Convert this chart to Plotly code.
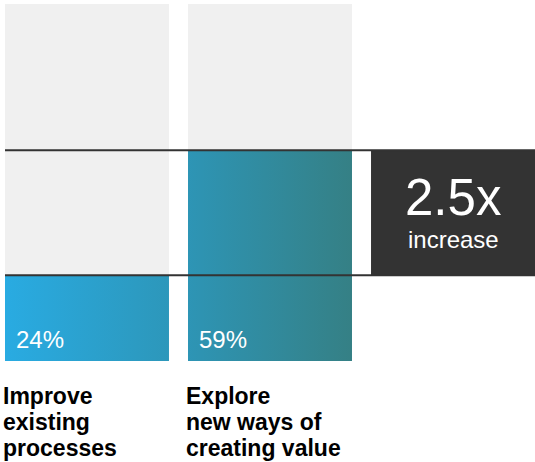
import plotly.graph_objects as go

# ---- data ----
categories = ["Improve existing processes", "Explore new ways of creating value"]
label_lines = [["Improve", "existing", "processes"], ["Explore", "new ways of", "creating value"]]
values = [24, 59]
full_scale = [100, 100]
x_pos = [0, 1]
box_pos = 2
increase_label = "increase"

# ---- styling ----
bar_width = 0.896
gray = "#f0f0f0"
dark = "#333333"
font_family = "Liberation Sans, Arial, sans-serif"

fig = go.Figure()

# background (100%) bars
fig.add_trace(go.Bar(x=x_pos, y=full_scale, width=bar_width,
                     marker=dict(color=gray, line=dict(width=0)),
                     hoverinfo="skip", showlegend=False))

# value bars with horizontal gradient
xs, ys = [], []
for xp, v in zip(x_pos, values):
    l, r = xp - bar_width / 2, xp + bar_width / 2
    xs += [l, r, r, l, l, None]
    ys += [0, 0, v, v, 0, None]
fig.add_trace(go.Scatter(
    x=xs, y=ys, mode="lines", line=dict(width=0, color="rgba(0,0,0,0)"),
    fill="toself",
    fillgradient=dict(type="horizontal",
                      colorscale=[[0, "#29ABE2"], [0.5, "#2D96B8"], [1, "#358085"]]),
    hoverinfo="skip", showlegend=False))

# dark "increase" box spanning between the two values
fig.add_trace(go.Bar(x=[box_pos], y=[values[1] - values[0]], base=[values[0]],
                     width=bar_width, marker=dict(color=dark, line=dict(width=0)),
                     hoverinfo="skip", showlegend=False))

# reference lines at each value
for v in values:
    fig.add_shape(type="line", xref="paper", x0=0, x1=1, yref="y", y0=v, y1=v,
                  line=dict(color=dark, width=2), layer="above")

annotations = []
# percent labels inside bars
for xp, v in zip(x_pos, values):
    annotations.append(dict(x=xp - bar_width / 2, y=0, xref="x", yref="y",
                            text=f"{v}%", showarrow=False, xanchor="left", yanchor="bottom",
                            xshift=9, yshift=6,
                            font=dict(family=font_family, size=24, color="white")))
# category labels below bars
for xp, lines in zip(x_pos, label_lines):
    for i, line in enumerate(lines):
        annotations.append(dict(x=xp - bar_width / 2, y=0, xref="x", yref="paper",
                                text=f"<b>{line}</b>", showarrow=False,
                                xanchor="left", yanchor="top", xshift=-4,
                                yshift=-20 - 26 * i,
                                font=dict(family=font_family, size=23, color="black")))
# multiplier text in dark box
ratio = values[1] / values[0]
mid = (values[0] + values[1]) / 2
annotations.append(dict(x=box_pos, y=mid, xref="x", yref="y", text=f"{ratio:.1f}x",
                        showarrow=False, xanchor="center", yanchor="middle", yshift=15,
                        font=dict(family=font_family, size=51, color="white")))
annotations.append(dict(x=box_pos, y=mid, xref="x", yref="y", text=increase_label,
                        showarrow=False, xanchor="center", yanchor="middle", yshift=-27,
                        font=dict(family=font_family, size=24, color="white")))

fig.update_layout(
    width=535, height=462,
    margin=dict(l=5, r=0, t=4, b=101, pad=0),
    paper_bgcolor="white", plot_bgcolor="white",
    barmode="overlay",
    xaxis=dict(range=[x_pos[0] - bar_width / 2, box_pos + bar_width / 2],
               visible=False, fixedrange=True),
    yaxis=dict(range=[0, 100], visible=False, fixedrange=True),
    annotations=annotations,
    showlegend=False,
)

fig.write_html("out.html", config={"displayModeBar": False},
               post_script="document.body.style.margin='0';document.body.style.overflow='hidden';")
